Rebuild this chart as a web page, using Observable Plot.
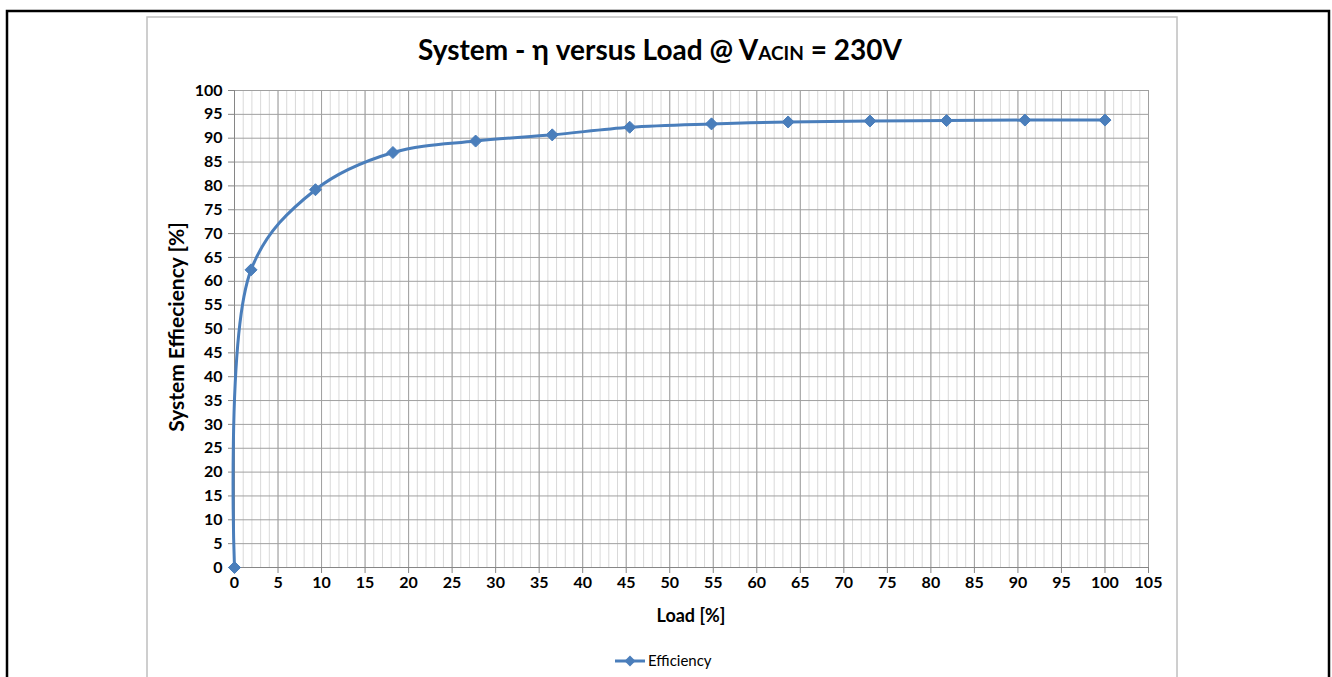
<!DOCTYPE html>
<html>
<head>
<meta charset="utf-8">
<script src="https://cdn.jsdelivr.net/npm/d3@7"></script>
<script src="https://cdn.jsdelivr.net/npm/@observablehq/plot@0.6"></script>
<style>
  html, body { margin: 0; padding: 0; background: #fff; }
  #chart svg { display: block; }
</style>
</head>
<body>
<div id="chart"></div>
<script>
// ---- data ----
const load = [0, 1.9, 9.3, 18.2, 27.7, 36.5, 45.4, 54.8, 63.6, 73.0, 81.8, 90.8, 100];
const efficiency = [0, 62.4, 79.2, 87.0, 89.4, 90.7, 92.3, 93.0, 93.4, 93.6, 93.7, 93.8, 93.8];
const xTicks = d3.range(0, 106, 5);
const xMinorTicks = d3.range(0, 106, 1);
const yTicks = d3.range(0, 101, 5);
const seriesName = "Efficiency";
const titleParts = ["System - η versus Load @ V", "ACIN", " = 230V"];
const xLabel = "Load [%]";
const yLabel = "System Effieciency [%]";

const data = load.map((x, i) => ({x, y: efficiency[i]}));
const blue = "#4a7ebb";
const font = "Lato, 'Open Sans', sans-serif";

// square diamond (rotated square), like Excel's marker
const squareDiamond = {
  draw(ctx, size) {
    const r = Math.sqrt(size / 2);
    ctx.moveTo(0, -r); ctx.lineTo(r, 0); ctx.lineTo(0, r); ctx.lineTo(-r, 0); ctx.closePath();
  }
};

const W = 1332, H = 677;
const plot = Plot.plot({
  width: W,
  height: H,
  marginLeft: 234,
  marginRight: W - 1148,
  marginTop: 90,
  marginBottom: H - 567,
  style: {fontFamily: font, background: "#fff"},
  x: {domain: [0, 105]},
  y: {domain: [0, 100]},
  marks: [
    Plot.gridX({ticks: xMinorTicks, stroke: "#d9d9d9", strokeOpacity: 1, strokeWidth: 1}),
    Plot.gridX({ticks: xTicks, stroke: "#a0a0a0", strokeOpacity: 1, strokeWidth: 1}),
    Plot.gridY({ticks: yTicks, stroke: "#a0a0a0", strokeOpacity: 1, strokeWidth: 1}),
    Plot.axisX({ticks: xTicks, tickSize: 6, tickPadding: 3, stroke: "#868686", fontSize: 16, fontWeight: "bold", fill: "#000", label: null}),
    Plot.axisY({ticks: yTicks, tickSize: 6, tickPadding: 6, stroke: "#868686", fontSize: 16, fontWeight: "bold", fill: "#000", label: null}),
    Plot.ruleX([0], {stroke: "#868686"}),
    Plot.ruleY([0], {stroke: "#868686"}),
    Plot.line(data, {x: "x", y: "y", curve: "catmull-rom", stroke: blue, strokeWidth: 3}),
    Plot.dot(data, {x: "x", y: "y", symbol: squareDiamond, r: 4.8, fill: blue, stroke: blue, strokeWidth: 1})
  ]
});

const svg = d3.select(plot);
// chart borders
svg.insert("rect", ":first-child")
  .attr("x", 147).attr("y", 17).attr("width", 1177 - 147).attr("height", H)
  .attr("fill", "none").attr("stroke", "#bfbfbf").attr("stroke-width", 1.5);
svg.append("rect")
  .attr("x", 7).attr("y", 11).attr("width", 1329 - 7).attr("height", H)
  .attr("fill", "none").attr("stroke", "#000").attr("stroke-width", 2.5);

// title
const t = svg.append("text")
  .attr("x", 660).attr("y", 60).attr("text-anchor", "middle")
  .attr("font-family", font).attr("font-weight", "bold").attr("font-size", 28).attr("fill", "#000");
t.append("tspan").text(titleParts[0]);
t.append("tspan").attr("font-size", 19).text(titleParts[1]);
t.append("tspan").text(titleParts[2]);

// axis labels
svg.append("text")
  .attr("x", 691).attr("y", 622).attr("text-anchor", "middle")
  .attr("font-family", font).attr("font-weight", "bold").attr("font-size", 18).text(xLabel);
svg.append("text")
  .attr("transform", "translate(184,327) rotate(-90)").attr("text-anchor", "middle")
  .attr("font-family", font).attr("font-weight", "bold").attr("font-size", 21).text(yLabel);

// legend
const lg = svg.append("g").attr("transform", "translate(615,661)");
lg.append("line").attr("x1", 0).attr("x2", 30).attr("y1", 0).attr("y2", 0)
  .attr("stroke", blue).attr("stroke-width", 3);
lg.append("path").attr("transform", "translate(15,0)")
  .attr("d", "M0,-5.5L5.5,0L0,5.5L-5.5,0Z").attr("fill", blue);
lg.append("text").attr("x", 33).attr("y", 5).attr("text-anchor", "start")
  .attr("font-family", font).attr("font-size", 15).text(seriesName);

document.getElementById("chart").appendChild(plot);
</script>
</body>
</html>
